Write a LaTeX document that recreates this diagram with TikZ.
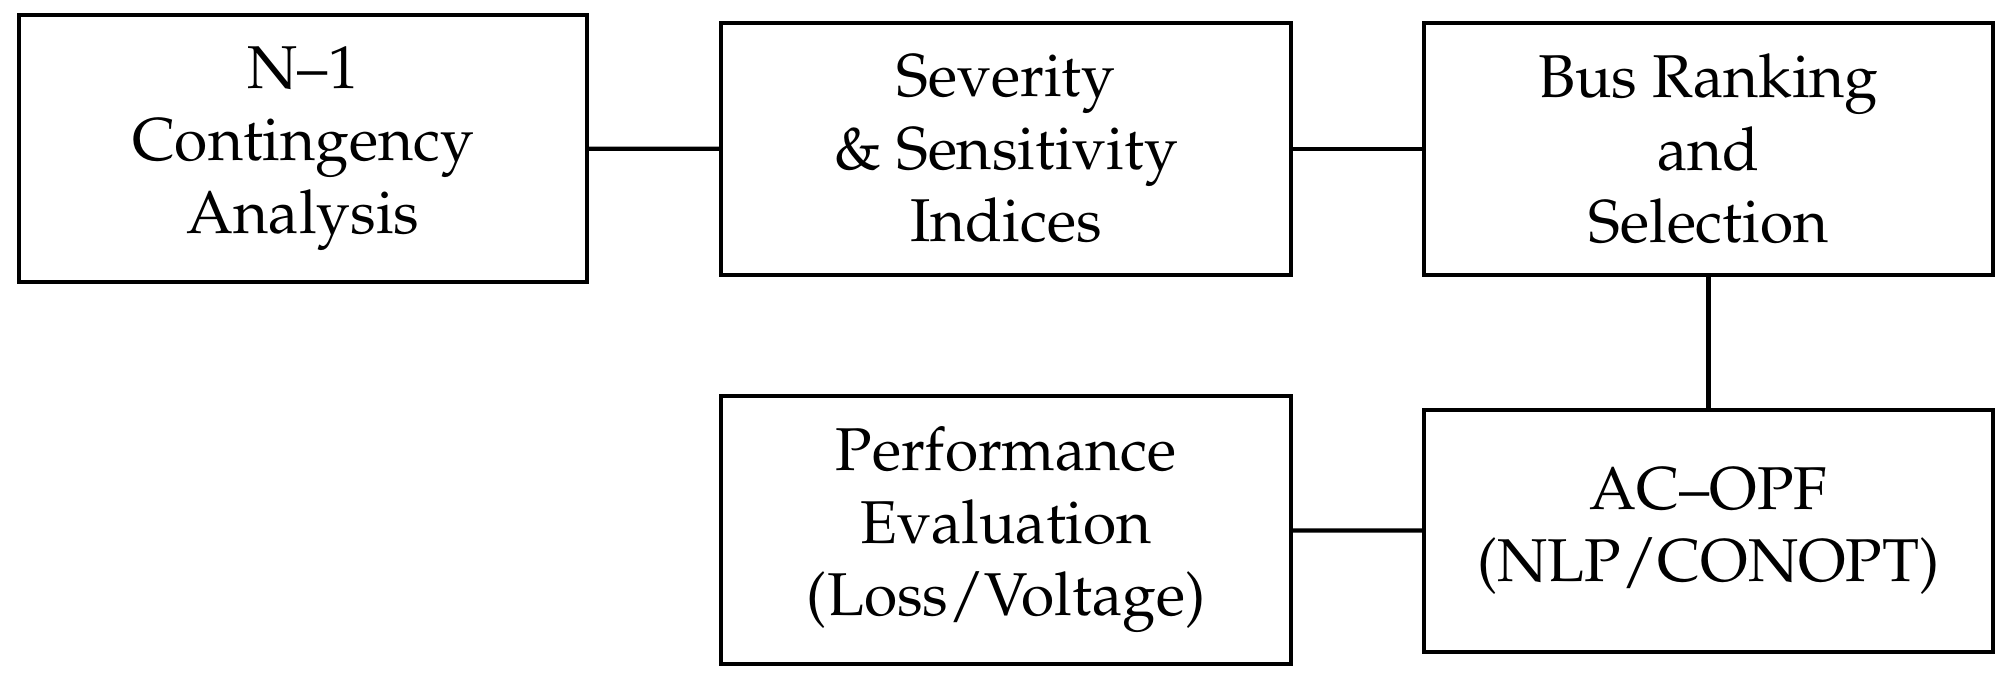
\documentclass[tikz,border=0pt]{standalone}
\usepackage[T1]{fontenc}
\usepackage{mathpazo}
\usepackage{tikz}
\usetikzlibrary{arrows,positioning}

\begin{document}
\begin{tikzpicture}[line width=1.2pt]%
        \useasboundingbox (0,0) rectangle (20.11,6.80);%%
        \begin{scope}[shape=rectangle,inner sep=.05cm,fill=white,align=center]
        \tikzstyle{every node}=[draw,font=\fontsize{17.2}{20.6}\selectfont] %%
        \node[minimum width=5.68cm,minimum height=2.67cm] (nca) at (3.03,5.315)  {N--1\\Contingency\\Analysis}; %%
        \node[minimum width=5.70cm,minimum height=2.52cm] (ssi) at (10.06,5.31)  {Severity\\\& Sensitivity\\Indices}; %%
        \node[minimum width=5.69cm,minimum height=2.52cm] (brs) at (17.085,5.31)  {Bus Ranking\\and\\Selection}; %%
        \node[minimum width=5.70cm,minimum height=2.68cm] (pev) at (10.06,1.50)  {Performance\\Evaluation\\(Loss/Voltage)}; %%
        \node[minimum width=5.69cm,minimum height=2.42cm] (opf) at (17.085,1.49)  {AC--OPF\\(NLP/CONOPT)}; %%
        \end{scope}%
        \draw (nca)--(ssi);  %%
        \draw (ssi)--(brs);  %%
        \draw (brs)--(opf);  %%
        \draw (opf)--(pev);  %%
        \end{tikzpicture}
\end{document}
